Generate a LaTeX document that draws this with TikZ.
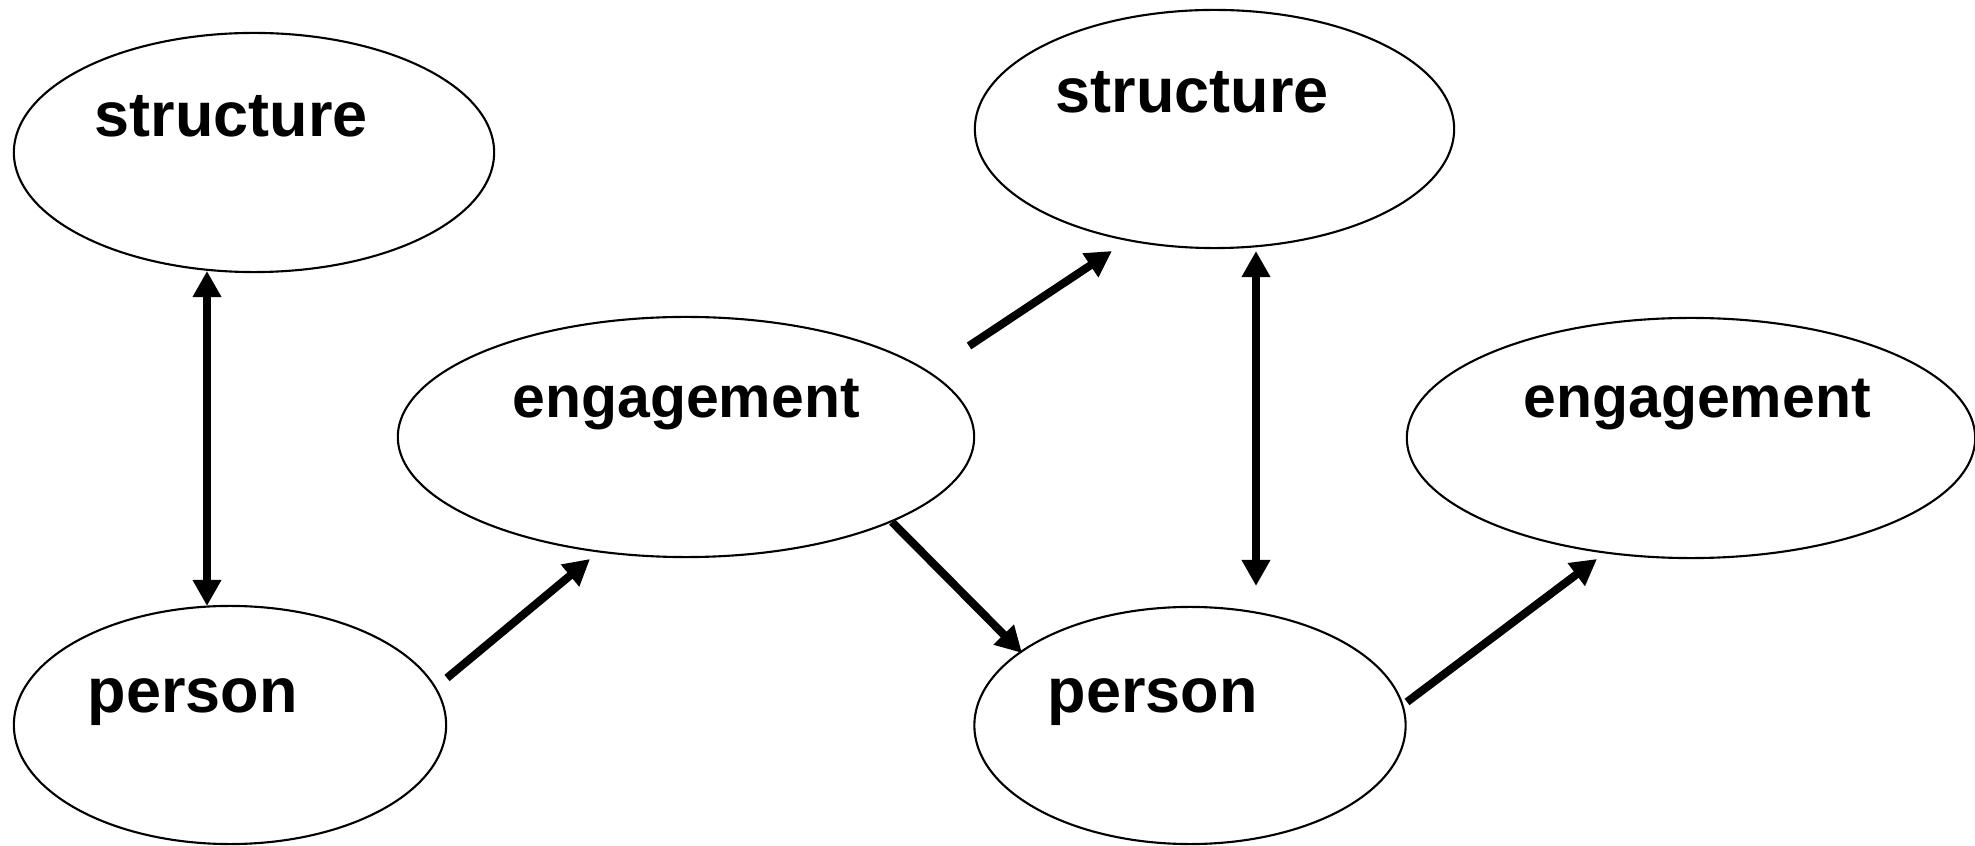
\documentclass[tikz,border=0pt]{standalone}
\usepackage{fontspec}
\setmainfont{Liberation Sans}
\usetikzlibrary{shapes.geometric,arrows.meta}
\begin{document}
\begin{tikzpicture}[x=0.01cm,y=-0.01cm,
  oval/.style={draw,ellipse,line width=0.6pt,inner sep=0pt},
  lbl/.style={anchor=base west,inner sep=0pt,font=\bfseries\fontsize{17.9}{20}\selectfont},
  lble/.style={anchor=base west,inner sep=0pt,font=\bfseries\fontsize{16.75}{20}\selectfont},
  tip/.style={},
  conn/.style={line width=2.3pt,-{Triangle[length=0.26cm,width=0.27cm]}},
  dconn/.style={line width=2.3pt,{Triangle[length=0.26cm,width=0.27cm]}-{Triangle[length=0.26cm,width=0.27cm]}}]
\useasboundingbox (0,0) rectangle (1975,846);
% ellipses
\node[oval,minimum width=4.80cm,minimum height=2.39cm] (s1) at (254,152.5) {};
\node[oval,minimum width=5.76cm,minimum height=2.40cm] (e1) at (686,437) {};
\node[oval,minimum width=4.32cm,minimum height=2.38cm] (p1) at (230,725) {};
\node[oval,minimum width=4.79cm,minimum height=2.38cm] (s2) at (1214.5,129) {};
\node[oval,minimum width=4.31cm,minimum height=2.37cm] (p2) at (1190,725.5) {};
\node[oval,minimum width=5.68cm,minimum height=2.40cm] (e2) at (1691,438) {};
% labels
\node[lbl] (s1t) at (94,137) {structure};
\node[lble] (e1t) at (512,418) {engagement};
\node[lbl] (p1t) at (87,712) {person};
\node[lbl] (s2t) at (1055,113) {structure};
\node[lble] (e2t) at (1523,418) {engagement};
\node[lbl] (p2t) at (1047,712) {person};
% connector end points
\coordinate (a1t) at (207,271);
\coordinate (a1b) at (207,606);
\coordinate (a2s) at (447,678);
\coordinate (a2e) at (590,559);
\coordinate (a3s) at (969,346);
\coordinate (a3e) at (1112,251);
\coordinate (a4s) at (892,522);
\coordinate (a4e) at (1022,653);
\coordinate (a5t) at (1256,251);
\coordinate (a5b) at (1256,586);
\coordinate (a6s) at (1407,702);
\coordinate (a6e) at (1597,559);
% connectors
\draw[dconn] (a1t) -- (a1b);
\draw[conn] (a2s) -- (a2e);
\draw[conn] (a3s) -- (a3e);
\draw[conn] (a4s) -- (a4e);
\draw[dconn] (a5t) -- (a5b);
\draw[conn] (a6s) -- (a6e);
\end{tikzpicture}
\end{document}
